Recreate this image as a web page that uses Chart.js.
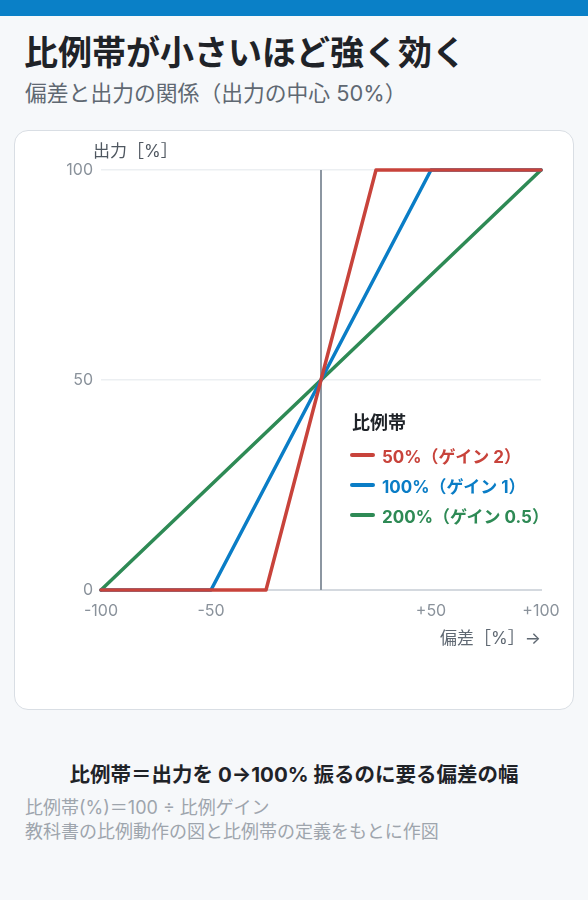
<!DOCTYPE html>
<html lang="ja">
<head>
<meta charset="utf-8">
<script src="https://cdn.jsdelivr.net/npm/chart.js@4"></script>
<style>
  body { margin: 0; background: #f6f8fa; font-family: "Inter", "Noto Sans CJK JP", sans-serif; width: 588px; height: 900px; position: relative; overflow: hidden; }
  .bar { height: 16px; background: #0a80c7; }
  h1 { position: absolute; left: 24px; top: 26px; margin: 0; font-size: 34px; font-weight: 700; color: #1f2328; }
  .sub { position: absolute; left: 25px; top: 76px; font-size: 21.8px; color: #5f6872; }
  .card { position: absolute; left: 14px; top: 130px; width: 558px; height: 578px; background: #fff; border: 1px solid #d9dee4; border-radius: 14px; }
  .card canvas { position: absolute; left: 0; top: 0; }
  .ytitle { position: absolute; left: 78px; top: 6px; font-size: 17px; color: #4f5760; }
  .legend { position: absolute; left: 335px; top: 277px; }
  .legend .lt { font-size: 18px; font-weight: 700; color: #1f2328; margin-bottom: 6px; margin-left: 2px; }
  .legend .it { display: flex; align-items: center; height: 30px; font-size: 17px; font-weight: 700; }
  .legend .sw { width: 25px; height: 4.5px; border-radius: 2px; margin-right: 7px; }
  .note { position: absolute; left: 0; width: 588px; top: 758px; text-align: center; font-size: 20.5px; font-weight: 700; color: #1f2328; }
  .cap { position: absolute; left: 25px; top: 796px; font-size: 18px; color: #9ea5ad; line-height: 24px; }
</style>
</head>
<body>
<div class="bar"></div>
<h1>比例帯が小さいほど強く効く</h1>
<div class="sub">偏差と出力の関係（出力の中心 50%）</div>
<div class="card">
  <canvas id="myChart" width="558" height="578"></canvas>
  <div class="ytitle">出力［%］</div>
  <div class="legend" id="legend"></div>
</div>
<div class="note">比例帯＝出力を 0→100% 振るのに要る偏差の幅</div>
<div class="cap">比例帯(%)＝100 ÷ 比例ゲイン<br>教科書の比例動作の図と比例帯の定義をもとに作図</div>
<script>
  // deviation [%] -> output [%]
  const redX = [-100, -25, 25, 100];
  const redY = [0, 0, 100, 100];
  const blueX = [-100, -50, 50, 100];
  const blueY = [0, 0, 100, 100];
  const greenX = [-100, 100];
  const greenY = [0, 100];
  const centerX = [0, 0];
  const centerY = [0, 100];

  const seriesLabels = ['50%（ゲイン 2）', '100%（ゲイン 1）', '200%（ゲイン 0.5）'];
  const seriesColors = ['#c8433b', '#0a7dc6', '#2e8a55'];
  const xTickLabels = { '-100': '-100', '-50': '-50', '0': '', '50': '+50', '100': '+100' };
  const yTicks = [0, 50, 100];

  const pts = (xs, ys) => xs.map((x, i) => ({ x: x, y: ys[i] }));

  const line = (label, data, color) => ({
    label: label,
    data: data,
    borderColor: color,
    backgroundColor: color,
    borderWidth: 3.5,
    pointRadius: 0,
    borderCapStyle: 'round',
    borderJoinStyle: 'round',
    tension: 0,
    clip: false
  });

  const datasets = [
    line(seriesLabels[0], pts(redX, redY), seriesColors[0]),
    line(seriesLabels[1], pts(blueX, blueY), seriesColors[1]),
    line(seriesLabels[2], pts(greenX, greenY), seriesColors[2]),
    Object.assign(line('center', pts(centerX, centerY), '#8c96a1'), { borderWidth: 2, borderCapStyle: 'butt' })
  ];

  const fam = '"Inter", "Noto Sans CJK JP", sans-serif';
  const tickFont = { family: fam, size: 16 };

  const config = {
    type: 'line',
    data: { datasets: datasets },
    options: {
      responsive: false,
      animation: false,
      layout: { padding: { left: 0, right: 32, top: 39, bottom: 60 } },
      plugins: { legend: { display: false }, tooltip: { enabled: false } },
      scales: {
        x: {
          type: 'linear', min: -100, max: 100,
          afterBuildTicks: s => { s.ticks = Object.keys(xTickLabels).map(v => ({ value: +v })); },
          afterFit: s => { s.height = 59; },
          ticks: { color: '#8a929b', font: tickFont, padding: 12, maxRotation: 0, callback: v => xTickLabels[String(v)] },
          grid: { display: false, drawTicks: false },
          border: { display: true, color: '#d4d9df', width: 2 },
          title: { display: true, text: '偏差［%］→', align: 'end', color: '#5f6872', font: { family: fam, size: 17 }, padding: 0 }
        },
        y: {
          type: 'linear', min: 0, max: 100,
          afterBuildTicks: s => { s.ticks = yTicks.map(v => ({ value: v })); },
          afterFit: s => { s.width = 86; },
          ticks: { color: '#8a929b', font: tickFont, padding: 8 },
          grid: { color: '#eceff2', lineWidth: 1.5, drawTicks: false },
          border: { display: false }
        }
      }
    }
  };

  const myChart = new Chart(document.getElementById('myChart'), config);

  // legend built from the same series
  const legend = document.getElementById('legend');
  legend.innerHTML = '<div class="lt">比例帯</div>' + seriesLabels.map((t, i) =>
    '<div class="it" style="color:' + seriesColors[i] + '"><span class="sw" style="background:' + seriesColors[i] + '"></span>' + t + '</div>'
  ).join('');
</script>
</body>
</html>
